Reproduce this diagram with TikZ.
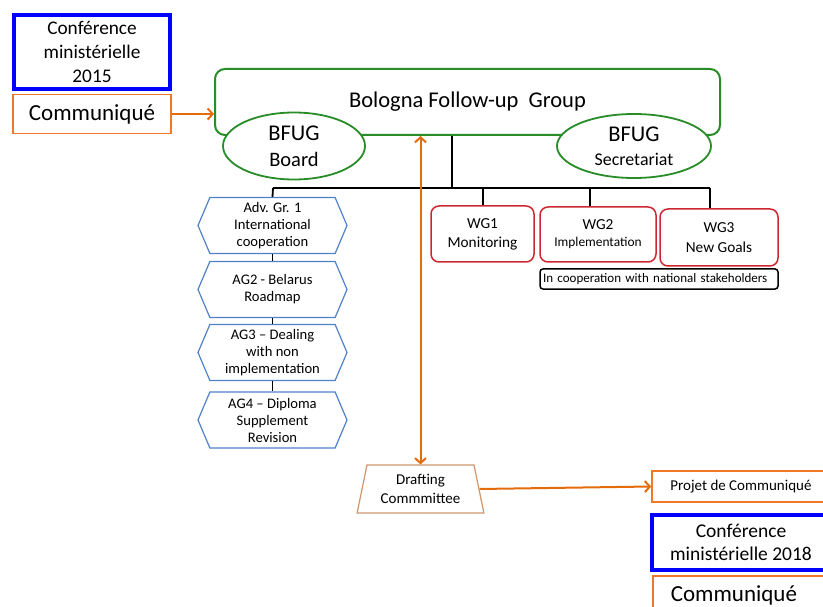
\documentclass[tikz,border=0pt]{standalone}
\usepackage{fontspec}
\setmainfont{Carlito}
\usetikzlibrary{shapes.symbols,shapes.geometric,arrows.meta}
\definecolor{cblue}{RGB}{0,0,255}
\definecolor{corange}{RGB}{240,120,40}
\definecolor{carrow}{RGB}{228,108,10}
\definecolor{cgreen}{RGB}{40,140,40}
\definecolor{cred}{RGB}{205,40,50}
\definecolor{chex}{RGB}{80,130,200}
\definecolor{cbrown}{RGB}{205,150,110}
\newcommand\fs[2]{\fontsize{#1}{#2}\selectfont}
\begin{document}
\begin{tikzpicture}[x=1pt,y=-1pt,
  confbox/.style={draw=cblue, line width=4pt, align=center, inner sep=0pt},
  obox/.style={draw=corange, line width=1.6pt, inner sep=0pt, align=center},
  ell/.style={ellipse, draw=cgreen, line width=1.8pt, fill=white, align=center, inner sep=-6pt},
  hexa/.style={signal, signal to=west and east, signal pointer angle=134, draw=chex, line width=1.2pt, minimum width=149pt, minimum height=56pt, inner sep=0pt, align=center, font=\fs{14.6}{17}},
  wg/.style={draw=cred, rounded corners=8pt, line width=1.5pt, align=center, inner sep=0pt},
  tree/.style={draw=black, line width=1.8pt},
  oarrow/.style={draw=carrow, line width=2pt, -{Straight Barb[length=5pt,width=11pt]}},
  oarrows/.style={draw=carrow, line width=2pt, {Straight Barb[length=5pt,width=11pt]}-{Straight Barb[length=5pt,width=11pt]}},
]
\useasboundingbox (0,0) rectangle (823,607);
\fill[white] (0,0) rectangle (823,607);
\clip (0,0) rectangle (823,607);

% 2015
\node[confbox, minimum width=156pt, minimum height=74pt, font=\fs{19.3}{24}] (conf15) at (92,52) {Conférence\\ministérielle\\2015};
\node[obox, minimum width=158pt, minimum height=39pt, font=\fs{23}{26}] (comm15) at (92,114) {Communiqué};

% BFUG
\node[draw=cgreen, line width=2pt, rounded corners=10pt, minimum width=505pt, minimum height=66pt, inner sep=0pt, font=\fs{22.5}{26}] (group) at (467.5,102) {Bologna Follow-up\ \ Group};
\node[ell, minimum width=142pt, minimum height=67pt, font=\fs{22.5}{26}] (board) at (294,146) {BFUG\\\fs{20.5}{26}Board};
\node[ell, minimum width=154pt, minimum height=64pt, font=\fs{22.5}{24}] (secr) at (634,146) {BFUG\\\fs{17.9}{24}Secretariat};

\draw[oarrow] (comm15.east) -- (comm15.east -| group.west);

% tree
\coordinate (j0) at (452,188);
\coordinate (bl) at (273,188);
\coordinate (d1) at (483,188);
\coordinate (d2) at (590,188);
\coordinate (d3) at (710,188);
\draw[tree] (group.south -| j0) -- (j0);
\draw[tree] (bl) -- (d3);

% advisory groups
\node[hexa] (hex1) at (272.5,225.5) {Adv. Gr. 1\\International\\cooperation};
\node[hexa] (hex2) at (272.5,289.5) {AG2 - Belarus\\Roadmap};
\node[hexa] (hex3) at (272.5,352.5) {AG3 -- Dealing\\with non\\implementation};
\node[hexa] (hex4) at (272.5,420) {AG4 -- Diploma\\Supplement\\Revision};
\draw[tree] (bl) -- (hex1.north);
\draw[tree] (hex1.south) -- (hex2.north);
\draw[tree] (hex2.south) -- (hex3.north);
\draw[tree] (hex3.south) -- (hex4.north);

% working groups
\node[wg, minimum width=103pt, minimum height=56pt, font=\fs{15.3}{19}] (wg1) at (482.5,234) {WG1\\Monitoring};
\node[wg, minimum width=116pt, minimum height=55pt, font=\fs{15.3}{17}] (wg2) at (598,234.5) {WG2\\\fs{13.4}{17}Implementation};
\node[wg, minimum width=118pt, minimum height=57pt, font=\fs{15.3}{20}] (wg3) at (719,237.5) {WG3\\New Goals};
\draw[tree] (d1) -- (d1 |- wg1.north);
\draw[tree] (d2) -- (d2 |- wg2.north);
\draw[tree] (d3) -- (d3 |- wg3.north);
\node[draw=black, line width=1.5pt, rounded corners=3pt, text width=232pt, align=left, inner xsep=3pt, inner ysep=0pt, minimum height=20pt, font=\fs{13}{15}] (stake) at (659,279) {In cooperation with national stakeholders};

% drafting
\node[trapezium, trapezium left angle=76, trapezium right angle=76, trapezium stretches=true, draw=cbrown, line width=1.2pt, minimum width=127pt, minimum height=48pt, inner sep=0pt, align=center, font=\fs{15}{19}] (draft) at (420.5,489) {Drafting\\Commmittee};
\draw[oarrows] (group.south -| draft.north) -- (draft.north);

% 2018
\node[obox, minimum width=178pt, minimum height=31pt, font=\fs{15}{18}] (projet) at (741,486.5) {Projet de Communiqué};
\draw[oarrow] (draft.east) -- (projet.west);
\node[confbox, minimum width=178pt, minimum height=55pt, font=\fs{19.5}{23}] (conf18) at (741,542) {Conférence\\ministérielle 2018};
\node[obox, anchor=north west, text width=160pt, align=left, inner xsep=18pt, minimum height=40pt, font=\fs{23}{26}] (comm18) at (652,575) {Communiqué};
\end{tikzpicture}
\end{document}
